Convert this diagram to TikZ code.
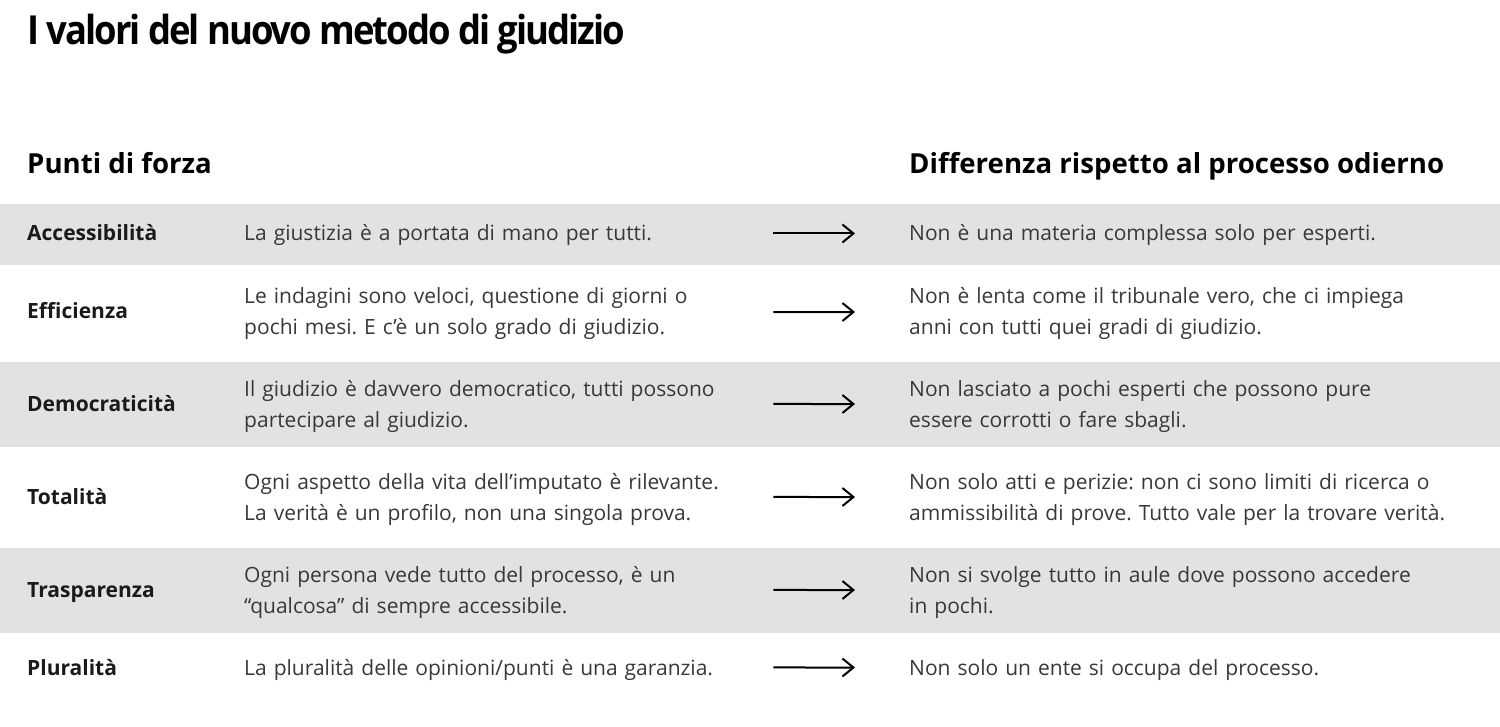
\documentclass[tikz,border=0pt]{standalone}
\usepackage{fontspec}
\setmainfont{Open Sans}
\usepackage{xcolor}
\usepackage{tikz}
\usetikzlibrary{arrows.meta,positioning}
\definecolor{band}{HTML}{E2E2E2}
\definecolor{ink}{HTML}{1A1A1A}
\definecolor{body}{HTML}{383838}
\frenchspacing

\begin{document}
\begin{tikzpicture}[
        x=1pt, y=-1pt,
        title/.style={anchor=base west,inner sep=0pt,text=black,font=\fontsize{40}{46}\selectfont\bfseries\addfontfeature{FakeStretch=0.91,LetterSpace=-5}},
        colhead/.style={anchor=base west,inner sep=0pt,text=black,font=\fontsize{27.6}{32}\selectfont\bfseries},
        lbl/.style={anchor=base west,inner sep=0pt,text=ink,font=\fontsize{21}{25}\selectfont\bfseries},
        desc/.style={anchor=base west,inner sep=0pt,text=body,text width=520pt,align=left,font=\fontsize{21}{31}\selectfont},
        diff/.style={desc,text width=585pt},
        arrow/.style={-{Straight Barb[length=11pt,width=18pt]},line width=2pt,shorten <=9pt,shorten >=54pt,transform canvas={yshift=2pt}}
    ]
        \useasboundingbox (0,0) rectangle (1500,727);

        % gray bands
        \fill[band] (0,204) rectangle (1500,265);
        \fill[band] (0,362) rectangle (1500,447);
        \fill[band] (0,548) rectangle (1500,633);

        \node[title] (ttl) at (27,45) {I valori del nuovo metodo di giudizio};
        \node[colhead] (hforza) at (27,174) {Punti di forza};
        \node[colhead] (hdiff) at (909,174) {Differenza rispetto al processo odierno};

        \node[lbl] (acc) at (27,241) {Accessibilità};
        \node[desc] (acc-d) at (244,241) {La giustizia è a portata di mano per tutti.};
        \node[diff] (acc-n) at (909,241) {Non è una materia complessa solo per esperti.};

        \node[lbl] (eff) at (27,319) {Efficienza};
        \node[desc] (eff-d) at (244,304) {Le indagini sono veloci, questione di giorni o\\pochi mesi. E c’è un solo grado di giudizio.};
        \node[diff] (eff-n) at (909,304) {Non è lenta come il tribunale vero, che ci impiega\\anni con tutti quei gradi di giudizio.};

        \node[lbl] (dem) at (27,411) {Democraticità};
        \node[desc] (dem-d) at (244,396) {Il giudizio è davvero democratico, tutti possono\\partecipare al giudizio.};
        \node[diff] (dem-n) at (909,396) {Non lasciato a pochi esperti che possono pure\\essere corrotti o fare sbagli.};

        \node[lbl] (tot) at (27,504) {Totalità};
        \node[desc] (tot-d) at (244,489) {Ogni aspetto della vita dell’imputato è rilevante.\\La verità è un profilo, non una singola prova.};
        \node[diff] (tot-n) at (909,489) {Non solo atti e perizie: non ci sono limiti di ricerca o\\ammissibilità di prove. Tutto vale per la trovare verità.};

        \node[lbl] (tra) at (27,597) {Trasparenza};
        \node[desc] (tra-d) at (244,582) {Ogni persona vede tutto del processo, è un\\“qualcosa” di sempre accessibile.};
        \node[diff] (tra-n) at (909,582) {Non si svolge tutto in aule dove possono accedere\\in pochi.};

        \node[lbl] (plu) at (27,675) {Pluralità};
        \node[desc] (plu-d) at (244,675) {La pluralità delle opinioni/punti è una garanzia.};
        \node[diff] (plu-n) at (909,675) {Non solo un ente si occupa del processo.};

        \draw[arrow] (acc-d.east) -- (acc-n.west);
        \draw[arrow] (eff-d.east) -- (eff-n.west);
        \draw[arrow] (dem-d.east) -- (dem-n.west);
        \draw[arrow] (tot-d.east) -- (tot-n.west);
        \draw[arrow] (tra-d.east) -- (tra-n.west);
        \draw[arrow] (plu-d.east) -- (plu-n.west);
    \end{tikzpicture}
\end{document}
